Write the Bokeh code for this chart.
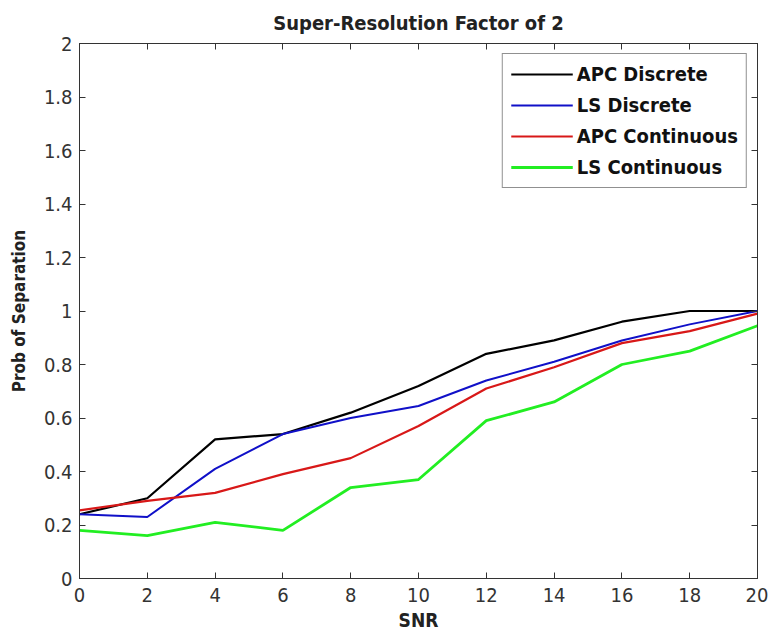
from bokeh.plotting import figure
from bokeh.models import (LinearAxis, FixedTicker, CustomJSTickFormatter, Legend,
                          LegendItem, Range1d)
from bokeh.embed import file_html
from bokeh.resources import INLINE

snr = [0, 2, 4, 6, 8, 10, 12, 14, 16, 18, 20]
apc_discrete = [0.24, 0.30, 0.52, 0.54, 0.62, 0.72, 0.84, 0.89, 0.96, 1.00, 1.00]
ls_discrete = [0.24, 0.23, 0.41, 0.54, 0.60, 0.645, 0.74, 0.81, 0.89, 0.95, 1.00]
apc_continuous = [0.255, 0.29, 0.32, 0.39, 0.45, 0.57, 0.71, 0.79, 0.88, 0.925, 0.99]
ls_continuous = [0.18, 0.16, 0.21, 0.18, 0.34, 0.37, 0.59, 0.66, 0.80, 0.85, 0.945]

names = ["APC Discrete", "LS Discrete", "APC Continuous", "LS Continuous"]
x_ticks = [0, 2, 4, 6, 8, 10, 12, 14, 16, 18, 20]
y_ticks = [0, 0.2, 0.4, 0.6, 0.8, 1.0, 1.2, 1.4, 1.6, 1.8, 2.0]

FONT = "Liberation Sans Narrow, DejaVu Sans Condensed, Arial Narrow, sans-serif"

p = figure(width=768, height=635, output_backend="svg", toolbar_location=None,
           x_range=Range1d(0, 20), y_range=Range1d(0, 2),
           min_border_left=79, min_border_right=11, min_border_top=42,
           min_border_bottom=57)
p.title.text = "Super-Resolution Factor of 2"
p.title.align = "center"
p.title.text_font = FONT
p.title.text_font_size = "20px"
p.title.text_font_style = "bold"
p.title.text_color = "#222222"
p.title.offset = 0
p.title.standoff = 17

p.grid.visible = False
p.outline_line_color = "#333333"
p.outline_line_width = 1
p.background_fill_color = "white"
p.border_fill_color = "white"

fmt = CustomJSTickFormatter(code="return String(Number(tick.toFixed(1)));")

for ax, ticks in ((p.xaxis[0], x_ticks), (p.yaxis[0], y_ticks)):
    ax.ticker = FixedTicker(ticks=ticks)
    ax.formatter = fmt
    ax.major_tick_in = 6
    ax.major_tick_out = 0
    ax.minor_tick_in = 0
    ax.minor_tick_out = 0
    ax.axis_line_color = "#333333"
    ax.major_tick_line_color = "#333333"
    ax.major_label_text_font = FONT
    ax.major_label_text_font_size = "20px"
    ax.major_label_text_color = "#333333"
    ax.axis_label_text_font = FONT
    ax.axis_label_text_font_style = "bold"
    ax.axis_label_text_color = "#222222"

p.xaxis[0].axis_label = "SNR"
p.xaxis[0].axis_label_text_font_size = "19px"
p.xaxis[0].major_label_standoff = 9
p.xaxis[0].axis_label_standoff = 4
p.yaxis[0].axis_label = "Prob of Separation"
p.yaxis[0].axis_label_text_font_size = "17px"
p.yaxis[0].major_label_standoff = 7
p.yaxis[0].axis_label_standoff = 12

blank = CustomJSTickFormatter(code="return '';")
top = LinearAxis(ticker=FixedTicker(ticks=x_ticks), formatter=blank,
                 major_tick_in=6, major_tick_out=0, minor_tick_in=0, minor_tick_out=0,
                 axis_line_color="#333333", major_tick_line_color="#333333",
                 major_label_standoff=0, major_label_text_font_size="1px")
right = LinearAxis(ticker=FixedTicker(ticks=y_ticks), formatter=blank,
                   major_tick_in=6, major_tick_out=0, minor_tick_in=0, minor_tick_out=0,
                   axis_line_color="#333333", major_tick_line_color="#333333",
                   major_label_standoff=0, major_label_text_font_size="1px")
p.add_layout(top, "above")
p.add_layout(right, "right")

series = [apc_discrete, ls_discrete, apc_continuous, ls_continuous]
colors = ["#000000", "#1010c8", "#d81818", "#22ee22"]
widths = [2.2, 2, 2.2, 2.8]
items = []
for name, ys, c, w in zip(names, series, colors, widths):
    r = p.line(snr, ys, line_color=c, line_width=w)
    items.append(LegendItem(label=name, renderers=[r]))

legend = Legend(items=items, location="top_right",
                label_text_font=FONT, label_text_font_size="20px",
                label_text_font_style="bold", label_text_color="#111111",
                glyph_width=62, glyph_height=22, label_height=22,
                spacing=7, padding=8, margin=10,
                border_line_color="#222222", border_line_width=1,
                background_fill_alpha=1.0, label_standoff=4)
p.add_layout(legend, "center")

open("out.html", "w").write(file_html(p, INLINE))
